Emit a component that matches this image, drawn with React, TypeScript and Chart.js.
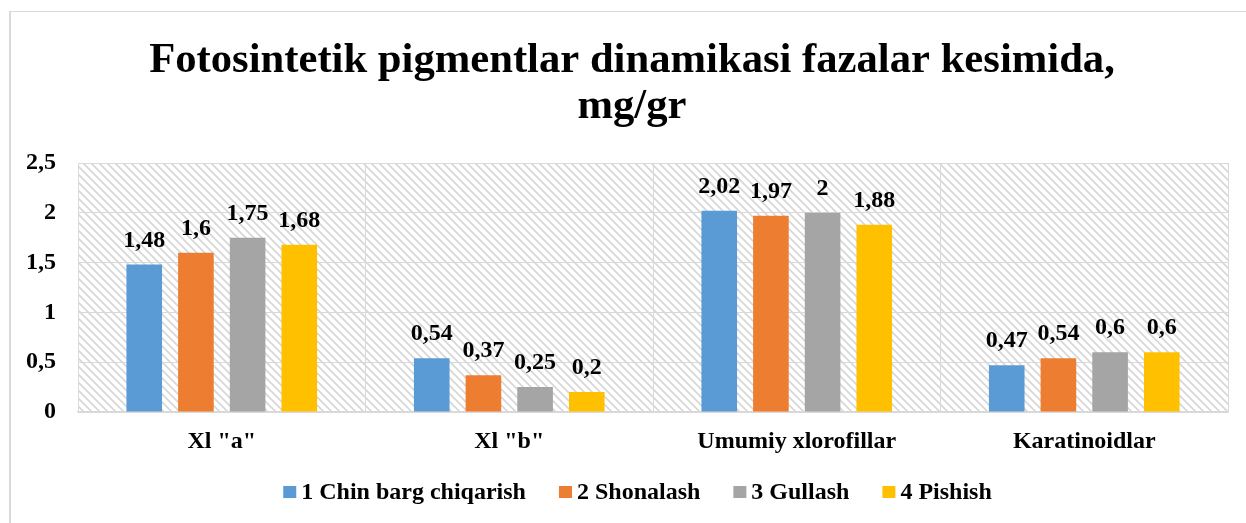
import React, { useEffect, useRef } from "react";
import { Chart, registerables } from "chart.js";

Chart.register(...registerables);

const categories = ['Xl "a"', 'Xl "b"', "Umumiy xlorofillar", "Karatinoidlar"];
const seriesNames = ["1 Chin barg chiqarish", "2 Shonalash", "3 Gullash", "4 Pishish"];
const chinBarg = [1.48, 0.54, 2.02, 0.47];
const shonalash = [1.6, 0.37, 1.97, 0.54];
const gullash = [1.75, 0.25, 2, 0.6];
const pishish = [1.68, 0.2, 1.88, 0.6];
const seriesColors = ["#5B9BD5", "#ED7D31", "#A5A5A5", "#FFC000"];
const titleLines = ["Fotosintetik pigmentlar dinamikasi fazalar kesimida,", "mg/gr"];
const yMin = 0;
const yMax = 2.5;
const yStep = 0.5;

const FONT = "'Liberation Serif', 'Times New Roman', serif";

const fmt = (v: number) => String(v).replace(".", ",");

function makePattern(ctx: CanvasRenderingContext2D) {
  const c = document.createElement("canvas");
  c.width = 8;
  c.height = 8;
  const p = c.getContext("2d")!;
  p.fillStyle = "#ffffff";
  p.fillRect(0, 0, 8, 8);
  p.strokeStyle = "#d6d6d6";
  p.lineWidth = 1.6;
  p.beginPath();
  p.moveTo(-8, -8);
  p.lineTo(16, 16);
  p.moveTo(-16, -8);
  p.lineTo(8, 16);
  p.moveTo(0, -8);
  p.lineTo(24, 16);
  p.stroke();
  return ctx.createPattern(c, "repeat");
}

const hatchPlugin = {
  id: "hatchBg",
  beforeDraw(chart: any) {
    const { ctx, chartArea } = chart;
    if (!chartArea) return;
    const pat = makePattern(ctx);
    ctx.save();
    ctx.fillStyle = pat || "#fff";
    ctx.fillRect(chartArea.left, chartArea.top, chartArea.right - chartArea.left, chartArea.bottom - chartArea.top);
    ctx.restore();
  },
};

const valueLabelPlugin = {
  id: "valueLabels",
  afterDatasetsDraw(chart: any) {
    const { ctx } = chart;
    ctx.save();
    ctx.font = `bold 24px ${FONT}`;
    ctx.fillStyle = "#000";
    ctx.textAlign = "center";
    ctx.textBaseline = "alphabetic";
    chart.data.datasets.forEach((ds: any, i: number) => {
      const meta = chart.getDatasetMeta(i);
      meta.data.forEach((bar: any, j: number) => {
        ctx.fillText(fmt(ds.data[j]), bar.x, bar.y - 18);
      });
    });
    ctx.restore();
  },
};

const titlePlugin = {
  id: "customTitle",
  afterDraw(chart: any) {
    const { ctx } = chart;
    ctx.save();
    ctx.font = `bold 42.67px ${FONT}`;
    ctx.fillStyle = "#000";
    ctx.textAlign = "center";
    ctx.textBaseline = "alphabetic";
    titleLines.forEach((line, i) => {
      ctx.fillText(line, 632, 72 + i * 46);
    });
    ctx.restore();
  },
};

const legendPlugin = {
  id: "customLegend",
  afterDraw(chart: any) {
    const { ctx } = chart;
    const box = 13;
    const gap = 5;
    const spacing = 33;
    const cy = 492;
    ctx.save();
    ctx.font = `bold 24px ${FONT}`;
    const items = chart.data.datasets.map((ds: any) => ({
      text: ds.label,
      color: ds.backgroundColor,
      w: ctx.measureText(ds.label).width,
    }));
    const total = items.reduce((s: number, it: any) => s + box + gap + it.w, 0) + spacing * (items.length - 1);
    let x = 637.5 - total / 2;
    ctx.textAlign = "left";
    ctx.textBaseline = "middle";
    items.forEach((it: any) => {
      ctx.fillStyle = it.color;
      ctx.fillRect(x, cy - 6, box, 12);
      x += box + gap;
      ctx.fillStyle = "#000";
      ctx.fillText(it.text, x, cy + 1);
      x += it.w + spacing;
    });
    ctx.restore();
  },
};

export default function App() {
  const ref = useRef<HTMLCanvasElement | null>(null);

  useEffect(() => {
    if (!ref.current) return;
    const series = [chinBarg, shonalash, gullash, pishish];
    const chart = new Chart(ref.current, {
      type: "bar",
      data: {
        labels: categories,
        datasets: series.map((d, i) => ({
          label: seriesNames[i],
          data: d,
          backgroundColor: seriesColors[i],
          borderWidth: 0,
          categoryPercentage: 0.719,
          barPercentage: 0.689,
        })),
      },
      options: {
        responsive: false,
        animation: false,
        layout: { padding: { left: 0, right: 18, top: 163, bottom: 67 } },
        plugins: {
          tooltip: { enabled: false },
          title: { display: false },
          legend: { display: false },
        },
        scales: {
          x: {
            grid: { offset: true, color: "#d9d9d9", lineWidth: 1, drawTicks: false },
            border: { display: true, color: "#d9d9d9", width: 1.5 },
            ticks: { color: "#000", font: { family: FONT, size: 24, weight: "bold" }, padding: 15, maxRotation: 0 },
            afterFit: (s: any) => {
              s.height = 44;
            },
          },
          y: {
            min: yMin,
            max: yMax,
            grid: { color: "#d9d9d9", lineWidth: 1, drawTicks: false },
            border: { display: false },
            ticks: {
              stepSize: yStep,
              color: "#000",
              font: { family: FONT, size: 24, weight: "bold" },
              padding: 22,
              callback: (v: any) => fmt(Number(v)),
            },
            afterFit: (s: any) => {
              s.width = 78;
            },
          },
        },
      },
      plugins: [hatchPlugin, valueLabelPlugin, titlePlugin, legendPlugin],
    } as any);
    return () => chart.destroy();
  }, []);

  return (
    <div style={{ position: "fixed", left: 0, top: 0, width: 1246, height: 523, overflow: "hidden", background: "#fff" }}>
      <div
        style={{
          position: "absolute",
          left: 9,
          top: 11,
          width: 2000,
          height: 2000,
          borderLeft: "2px solid #d9d9d9",
          borderTop: "1px solid #d9d9d9",
        }}
      />
      <canvas ref={ref} width={1246} height={523} style={{ position: "absolute", left: 0, top: 0, display: "block" }} />
    </div>
  );
}
